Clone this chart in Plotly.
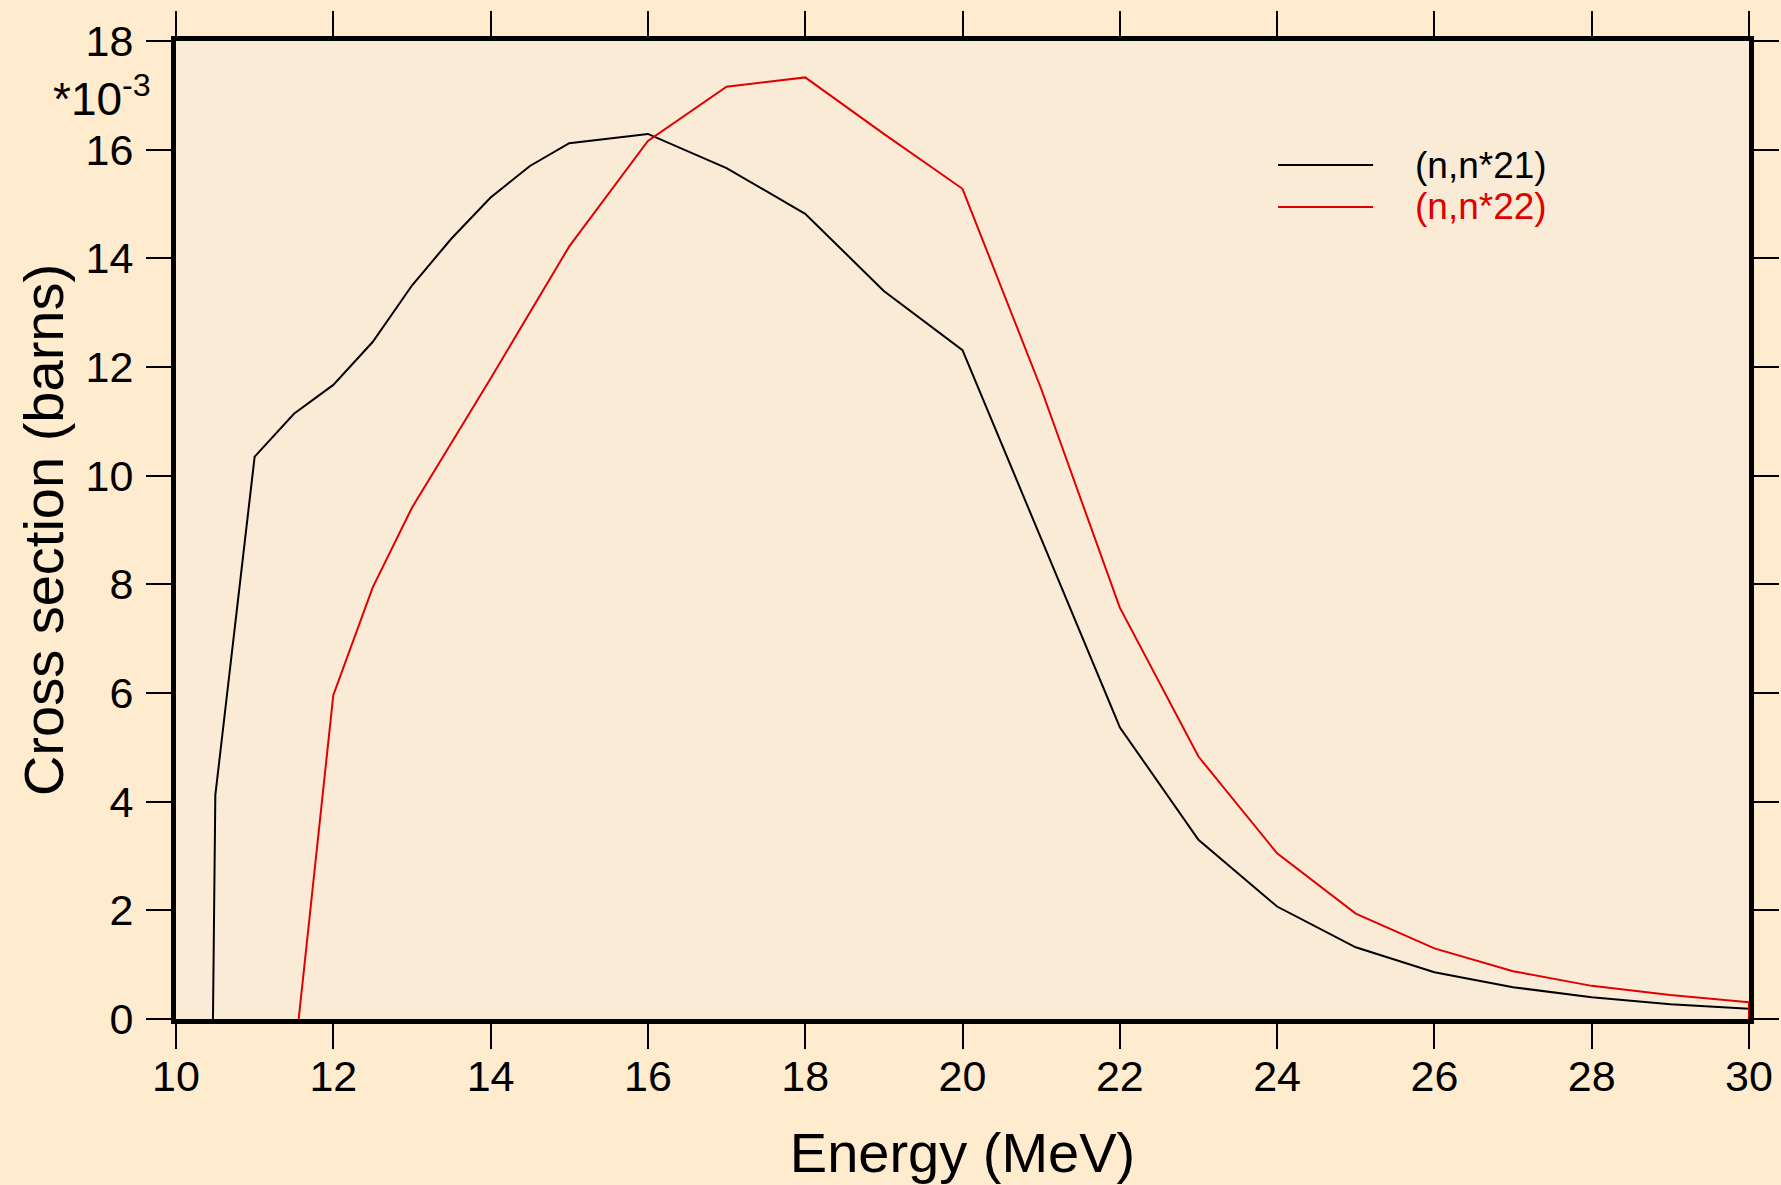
import plotly.graph_objects as go

# Energies (MeV) and cross sections (in units of 1e-3 barns)
e21 = [10.47, 10.5, 11, 11.5, 12, 12.5, 13, 13.5, 14, 14.5, 15, 16, 17, 18, 19, 20,
       21, 22, 23, 24, 25, 26, 27, 28, 29, 30]
xs21 = [0.0, 4.12, 10.35, 11.14, 11.67, 12.46, 13.5, 14.36, 15.12, 15.70, 16.12, 16.29,
        15.66, 14.82, 13.40, 12.31, 8.84, 5.37, 3.30, 2.07, 1.32, 0.86, 0.585, 0.40,
        0.27, 0.19]

e22 = [11.56, 12, 12.5, 13, 14, 15, 16, 17, 18, 19, 20, 21, 22, 23, 24, 25, 26, 27,
       28, 29, 30, 30]
xs22 = [0.0, 5.96, 7.94, 9.41, 11.79, 14.22, 16.16, 17.16, 17.33, 16.29, 15.28, 11.6,
        7.57, 4.83, 3.05, 1.94, 1.30, 0.88, 0.61, 0.44, 0.31, 0.0]

names = ["(n,n*21)", "(n,n*22)"]
colors = ["#000000", "#e00000"]
x_ticks = list(range(10, 31, 2))
y_ticks = list(range(0, 19, 2))

FONT = "Liberation Sans, Arial, sans-serif"

fig = go.Figure()
for xv, yv, nm, c in [(e21, xs21, names[0], colors[0]), (e22, xs22, names[1], colors[1])]:
    fig.add_trace(go.Scatter(x=xv, y=yv, mode="lines", name=nm,
                             line=dict(color=c, width=2), showlegend=False))

# manual legend
leg_y = [0.8732, 0.8303]
for nm, c, yy in zip(names, colors, leg_y):
    fig.add_shape(type="line", xref="paper", yref="paper", x0=0.7006, x1=0.761,
                  y0=yy, y1=yy, line=dict(color=c, width=2))
    fig.add_annotation(xref="paper", yref="paper", x=0.7864, y=yy, text=nm,
                       showarrow=False, xanchor="left", yanchor="middle",
                       font=dict(family=FONT, size=37, color=c))

fig.add_annotation(xref="paper", yref="paper", x=-0.0145, y=0.944,
                   text="*10<sup>-3</sup>", showarrow=False, xanchor="right",
                   yanchor="middle", font=dict(family=FONT, size=46, color="black"))

axis_common = dict(showline=True, linewidth=5, linecolor="black", mirror="ticks",
                   ticks="outside", ticklen=25, tickwidth=2, tickcolor="black",
                   showgrid=False, zeroline=False, automargin=False,
                   tickfont=dict(family=FONT, size=43, color="black"))

fig.update_layout(
    width=1781, height=1185,
    paper_bgcolor="#ffebcd", plot_bgcolor="#faebd7",
    margin=dict(l=176, r=32, t=41, b=166),
    xaxis=dict(range=[10, 30], tickvals=x_ticks, ticklabelstandoff=-10,
               title=dict(text="Energy (MeV)", font=dict(family=FONT, size=56, color="black"),
                          standoff=36),
               **axis_common),
    yaxis=dict(range=[0, 18], tickvals=y_ticks, ticklabelstandoff=4,
               title=dict(text="Cross section (barns)",
                          font=dict(family=FONT, size=56, color="black"), standoff=5),
               **axis_common),
)

fig.write_html("out.html", config={"displayModeBar": False},
               post_script="document.body.style.margin='0';document.body.style.background='#ffebcd';")
